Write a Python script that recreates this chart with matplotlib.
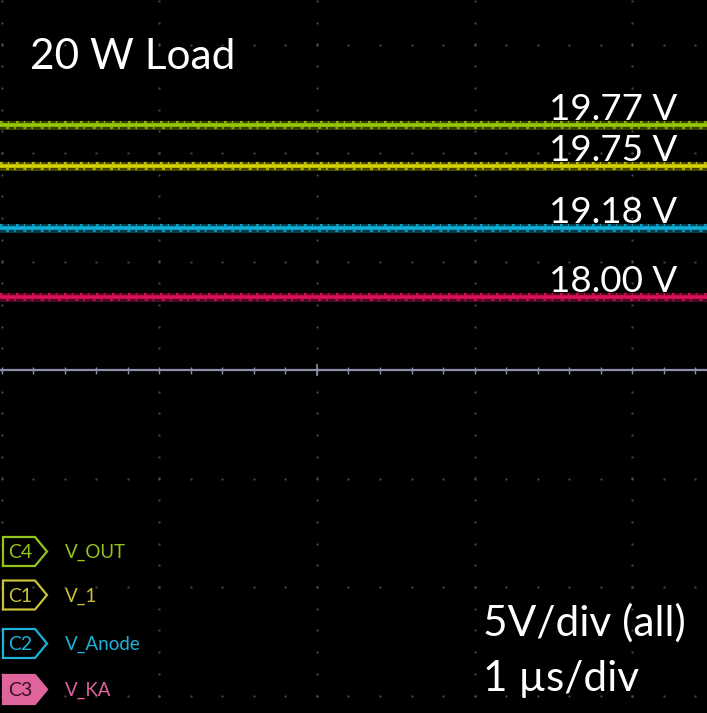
import matplotlib
matplotlib.use('Agg')
import matplotlib.pyplot as plt
import matplotlib.transforms as mtransforms
import numpy as np
from matplotlib.patches import Polygon

# channel data (levels are screen positions in divisions above the centre line)
channels = ['C4', 'C1', 'C2', 'C3']
signal_names = ['V_OUT', 'V_1', 'V_Anode', 'V_KA']
trace_levels = [2.26, 1.88, 1.31, 0.67]
readings = [19.77, 19.75, 19.18, 18.00]

trace_colors = ['#a0d000', '#e0dc00', '#12b6e2', '#e6125e']
legend_colors = ['#92c41a', '#c9c23a', '#1cb2da', '#e0649c']

FONT = ['Lato', 'DejaVu Sans']
PX_X = 157.7   # pixels per horizontal division
PX_Y = 108.5   # pixels per vertical division
CY = 370       # pixel row of centre line

fig = plt.figure(figsize=(7.07, 7.13), dpi=100, facecolor='black')
ax = fig.add_axes([0, 0, 1, 1])
ax.set_facecolor('black')
ax.set_xlim(-1.5 / PX_X, (707 - 1.5) / PX_X)
ax.set_ylim(-(713 - CY) / PX_Y, CY / PX_Y)
ax.axis('off')

# graticule dots
dot = dict(ls='', marker='s', ms=1.4, color='#4a4d5e', mew=0)
for xv in range(0, 5):
    ys = np.arange(-3.2, 3.45, 0.2)
    ax.plot(np.full_like(ys, xv), ys, **dot)
for yv in [-3, -2, -1, 1, 2, 3]:
    xs = np.arange(0, 4.5, 0.2)
    ax.plot(xs, np.full_like(xs, yv), **dot)

# centre line with ticks
ax.axhline(0, color='#8a8ea8', lw=1.6)
xs = np.arange(0, 4.5, 0.2)
ax.vlines(xs, -3.5 / PX_Y, 3.5 / PX_Y, color='#8a8ea8', lw=1)
ax.vlines([2], -6 / PX_Y, 6 / PX_Y, color='#8a8ea8', lw=1.2)

# traces: glow band, core and speckled edges for the noisy look
up = mtransforms.offset_copy(ax.get_yaxis_transform(), fig=fig, y=2.2, units='points')
dn = mtransforms.offset_copy(ax.get_yaxis_transform(), fig=fig, y=-2.2, units='points')
for lvl, col in zip(trace_levels, trace_colors):
    ax.axhline(lvl, color=col, lw=6.5, alpha=0.32)
    ax.axhline(lvl, color=col, lw=2.6, alpha=0.95)
    ax.plot([0, 1], [lvl, lvl], transform=up, color=col, lw=1.6, alpha=0.8,
            ls=(0, (1.2, 2.3, 0.6, 3.1)))
    ax.plot([0, 1], [lvl, lvl], transform=dn, color=col, lw=1.6, alpha=0.7,
            ls=(1.5, (0.8, 3.4, 1.4, 2.2)))

# overlay in pixel coordinates for text and legend
ov = fig.add_axes([0, 0, 1, 1])
ov.set_xlim(0, 707)
ov.set_ylim(713, 0)
ov.axis('off')
ov.patch.set_alpha(0)

ov.text(30, 69, '20 W Load', fontsize=30.5, color='white', family=FONT, va='baseline')

for lvl, val in zip(trace_levels, readings):
    y = CY - lvl * PX_Y - 5
    ov.text(549, y, f'{val:.2f} V', fontsize=26.5, color='white', family=FONT, va='baseline')

ov.text(483, 636, '5V/div (all)', fontsize=30.5, color='white', family=FONT, va='baseline')
ov.text(483, 691, '1 \u00b5s/div', fontsize=30.5, color='white', family=FONT, va='baseline')

# channel legend
legend_y = [551.5, 595, 643.5, 689.5]
for ch, name, col, yc in zip(channels, signal_names, legend_colors, legend_y):
    pts = [(3, yc - 14.5), (35, yc - 14.5), (47, yc), (35, yc + 14.5), (3, yc + 14.5)]
    filled = ch == 'C3'
    ov.add_patch(Polygon(pts, closed=True, fc=col if filled else 'none', ec=col, lw=1.6))
    ov.text(20, yc + 1, ch, fontsize=14, color='#3a0d22' if filled else col,
            ha='center', va='center', family=FONT)
    ov.text(65, yc + 1, name, fontsize=13.5, color=col, va='center', family=FONT)

fig.savefig('out.png', dpi=100, facecolor='black')
